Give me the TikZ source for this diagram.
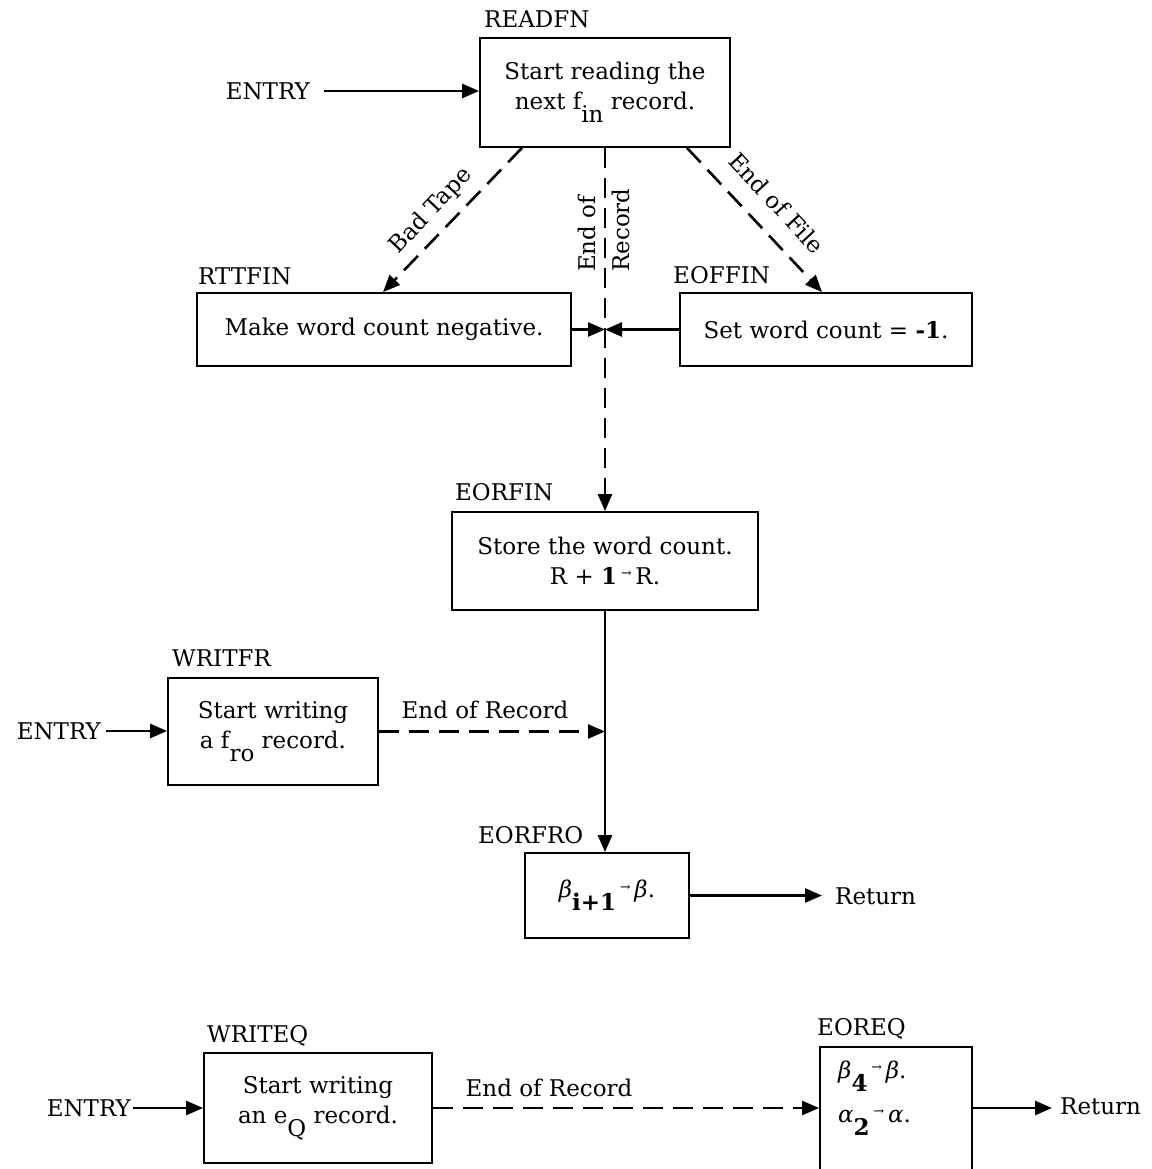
\documentclass[tikz,border=0pt]{standalone}
\usepackage{fontspec}
\usepackage{graphicx}
\setmainfont{DejaVu Serif}
\usetikzlibrary{arrows.meta}
% typewriter-style lowered subscript, set at nearly full size
\newcommand\dropsub[1]{\raisebox{-0.55em}{#1}}
\newcommand\smallto{\,\raisebox{0.3em}{\scalebox{0.55}{→}}\,}
\begin{document}
\begin{tikzpicture}[x=1pt,y=-1pt,
  font=\fontsize{23}{30}\selectfont,
  block/.style={draw, line width=1.8pt, inner sep=0pt, align=center},
  tag/.style={anchor=base west, inner sep=0pt},
  flow/.style={line width=2.6pt, -{Triangle[length=17pt,width=14pt]}},
  alt/.style={flow, dash pattern=on 20pt off 10pt},
  lbl/.style={inner sep=0pt},
]
\useasboundingbox[fill=white] (0,0) rectangle (1151,1169);

% ---- reading an f_in record ----
\node[block, minimum width=250pt, minimum height=109pt] (readfn) at (605,92.5)
  {Start reading the\\next f\dropsub{in} record.};
\node[tag] (readfnname) at (484,28) {READFN};
\node[lbl, anchor=east] (entrya) at (310,91) {ENTRY};

\node[block, minimum width=374pt, minimum height=73pt] (rttfin) at (384,329.5)
  {Make word count negative.};
\node[tag] (rttfinname) at (198,284) {RTTFIN};

\node[block, minimum width=292pt, minimum height=73pt] (eoffin) at (826,329.5)
  {Set word count = \textbf{-1}.};
\node[tag] (eoffinname) at (673,283) {EOFFIN};

\node[block, minimum width=306pt, minimum height=98pt] (eorfin) at (605,561)
  {Store the word count.\\R + \textbf{1}\smallto R.};
\node[tag] (eorfinname) at (455,500) {EORFIN};

\draw[flow] ([xshift=14pt]entrya.east) -- (entrya.east -| readfn.west);
\draw[alt] ([xshift=-83pt]readfn.south) -- ([xshift=-1pt]rttfin.north);
\node[lbl, rotate=46.6] (badtape) at (431,211) {Bad Tape};
\draw[alt] ([xshift=82pt]readfn.south) -- ([xshift=-4pt]eoffin.north);
\node[lbl, rotate=-47] (endfile) at (777,203) {End of File};
\draw[alt] (readfn.south) -- (eorfin.north);
\node[rotate=90, align=left, lbl, anchor=north west] (endrec) at (578,272)
  {End of\\[4pt]Record};

\coordinate (meet) at (readfn.south |- rttfin.east);
\draw[flow] (rttfin.east) -- (meet);
\draw[flow] (eoffin.west) -- (meet);

% ---- writing an f_ro record ----
\node[block, minimum width=210pt, minimum height=107pt] (writfr) at (273,731.5)
  {Start writing\\a f\dropsub{ro} record.};
\node[tag] (writfrname) at (172,666) {WRITFR};
\node[lbl, anchor=east] (entryb) at (101,731) {ENTRY};

\node[block, minimum width=164pt, minimum height=85pt] (eorfro) at (607,895.5)
  {\textit{β}\dropsub{\textbf{i+1}}\smallto\textit{β}.};
\node[tag] (eorfroname) at (478,843) {EORFRO};
\node[lbl, anchor=west] (returna) at (835,896) {Return};

\draw[flow] ([xshift=5pt]entryb.east) -- (entryb.east -| writfr.west);
\draw[alt] (writfr.east) -- (writfr.east -| eorfin.south);
\node[lbl] (recb) at (485,710) {End of Record};
\draw[flow] (eorfin.south) -- (eorfin.south |- eorfro.north);
\draw[flow, shorten >=13pt] (eorfro.east) -- (eorfro.east -| returna.west);

% ---- writing an e_Q record ----
\node[block, minimum width=228pt, minimum height=110pt] (writeq) at (318,1108)
  {Start writing\\an e\dropsub{Q} record.};
\node[tag] (writeqname) at (207,1042) {WRITEQ};
\node[lbl, anchor=east] (entryc) at (131,1108) {ENTRY};

\node[block, anchor=north, minimum width=152pt, minimum height=140pt] (eoreq) at (896,1046) {};
\node[align=left, lbl, anchor=west] (eoreqtext) at (838,1098)
  {\textit{β}\dropsub{\textbf{4}}\smallto\textit{β}.\\[14pt]\textit{α}\dropsub{\textbf{2}}\smallto\textit{α}.};
\node[tag] (eoreqname) at (817,1035) {EOREQ};
\node[lbl, anchor=west] (returnb) at (1060,1106) {Return};

\draw[flow] ([xshift=2pt]entryc.east) -- (entryc.east -| writeq.west);
\draw[alt] (writeq.east) -- (writeq.east -| eoreq.west);
\node[lbl] (recc) at (549,1088) {End of Record};
\draw[flow, shorten >=8pt] (writeq.east -| eoreq.east) -- (writeq.east -| returnb.west);
\end{tikzpicture}
\end{document}
